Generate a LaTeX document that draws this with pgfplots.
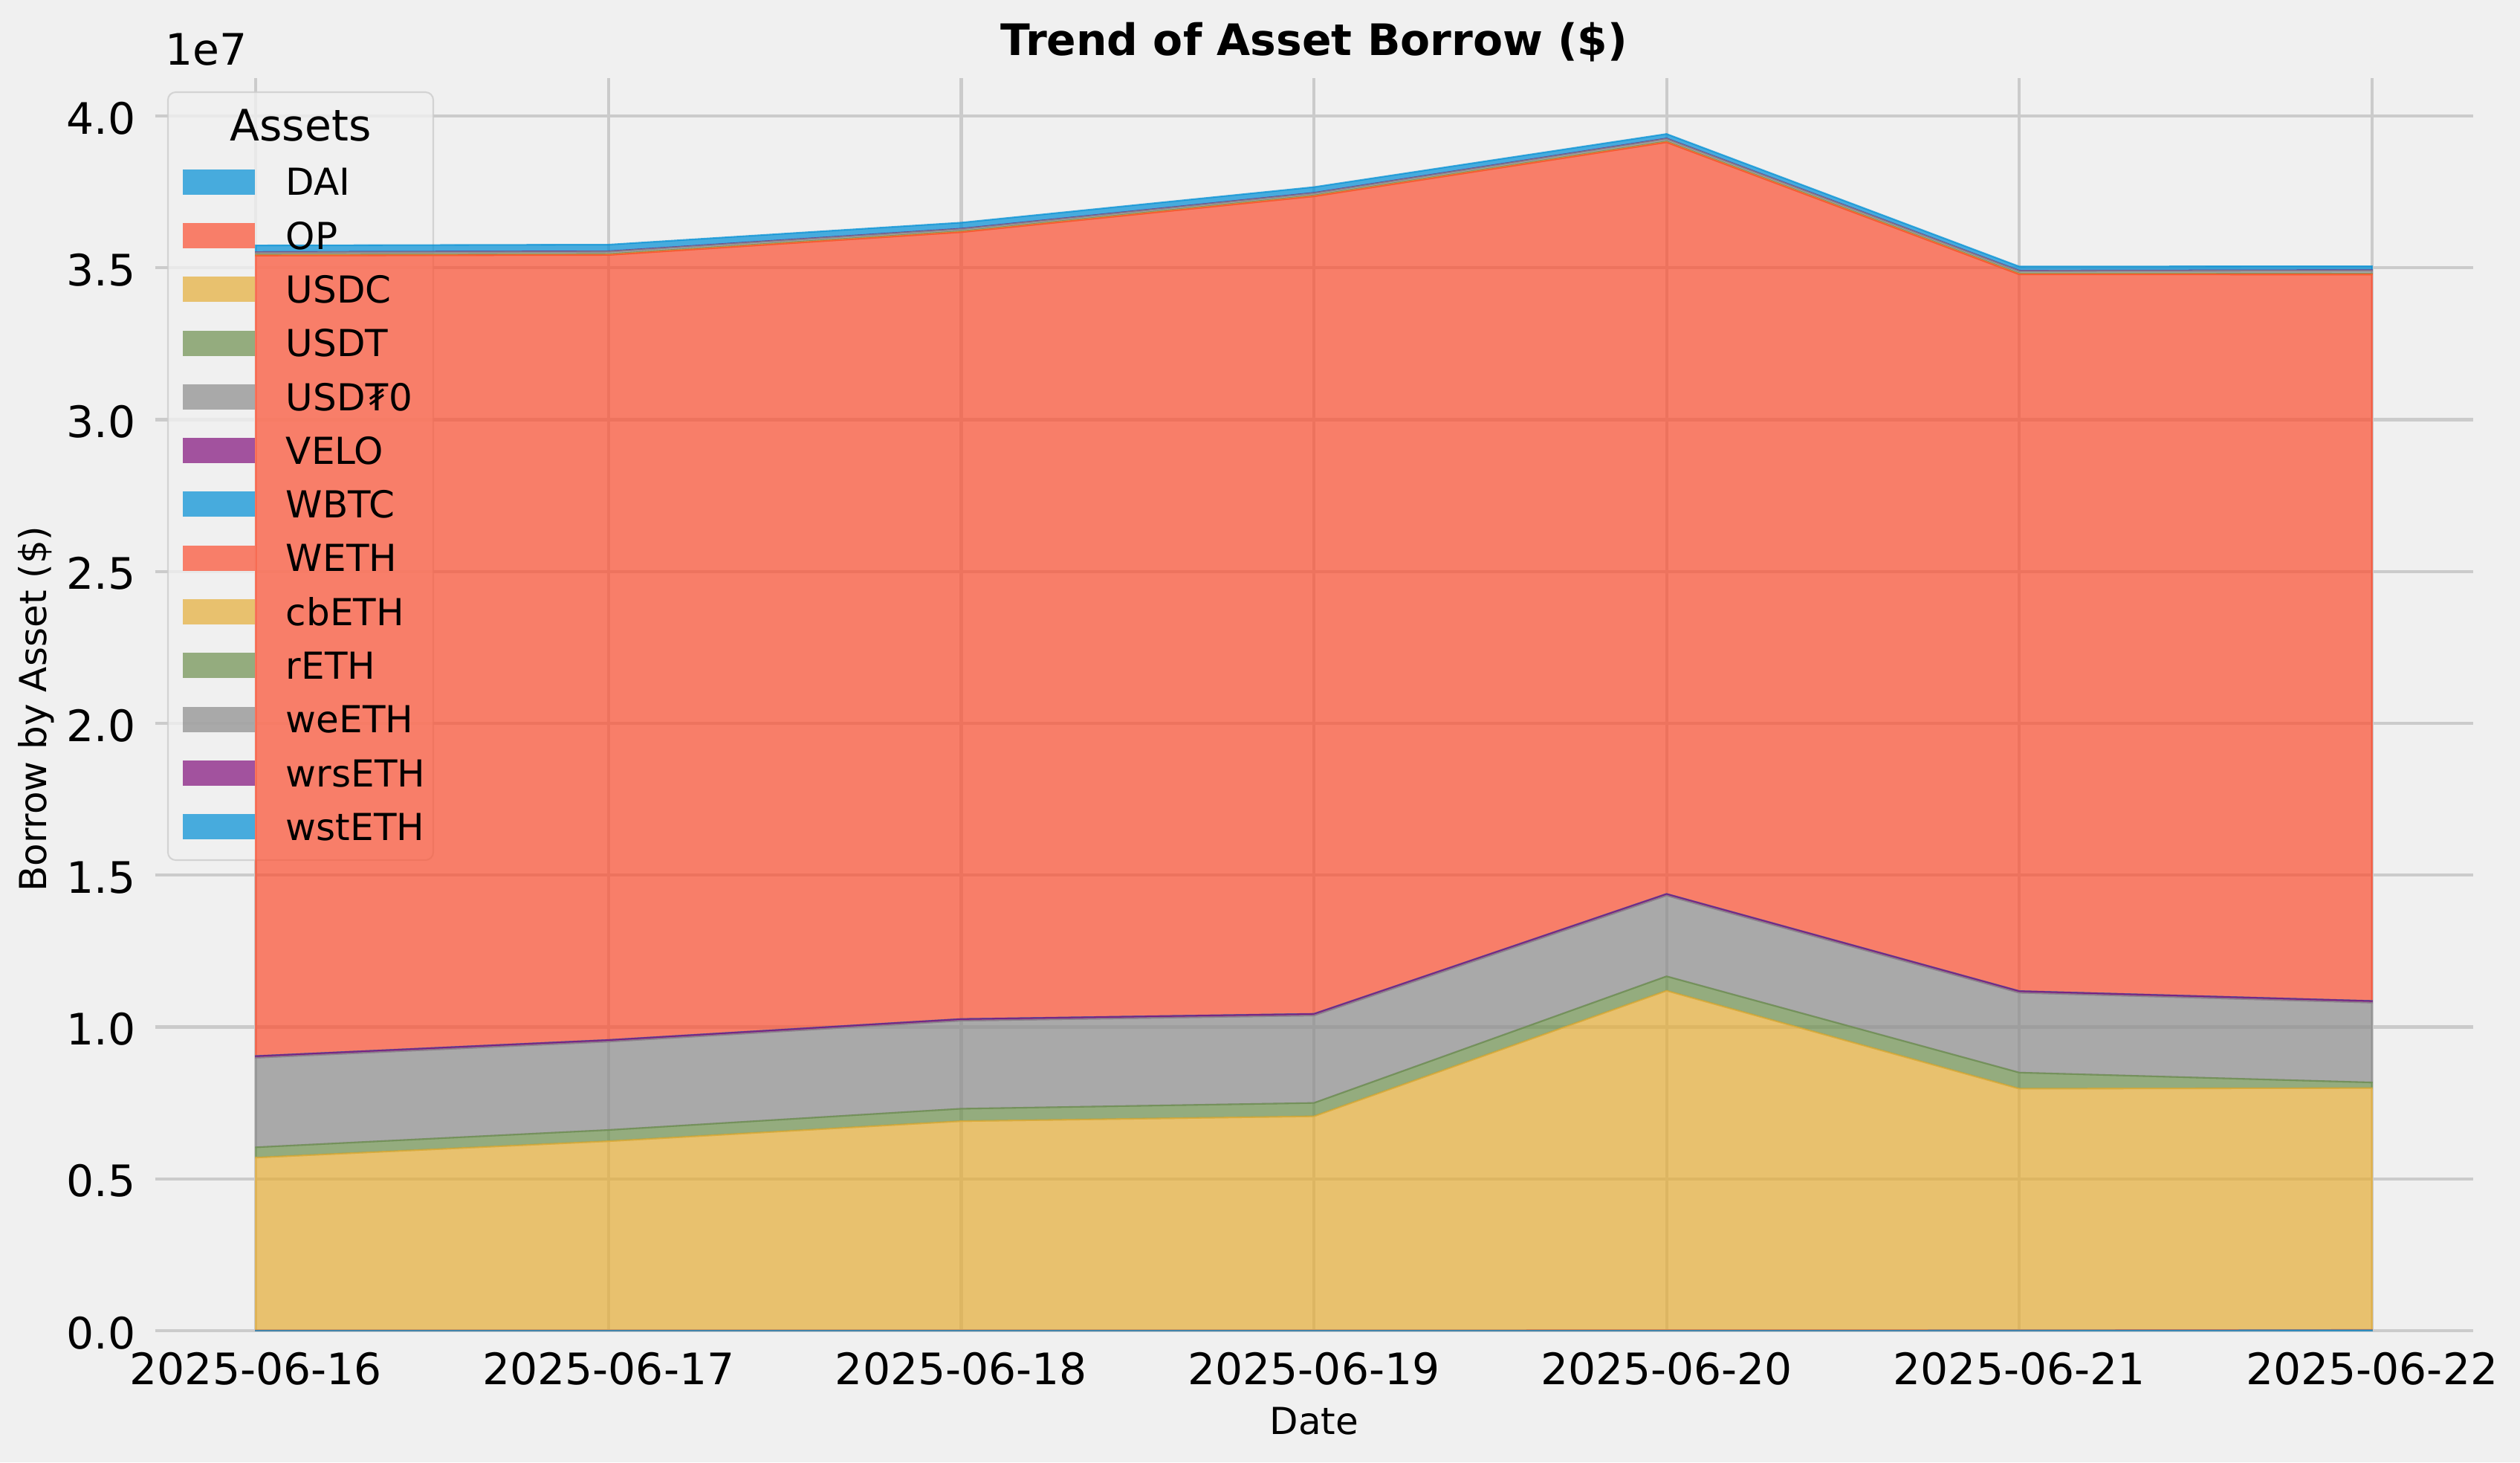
\documentclass[border=0pt]{standalone}
\usepackage{pgfplots}
\pgfplotsset{compat=1.18}
\usepackage{pgfplotstable}
\usepackage{fontspec}
\setmainfont{DejaVu Sans}
\definecolor{c1}{HTML}{008FD5}
\definecolor{c2}{HTML}{FC4F30}
\definecolor{c3}{HTML}{E5AE38}
\definecolor{c4}{HTML}{6D904F}
\definecolor{c5}{HTML}{8B8B8B}
\definecolor{c6}{HTML}{810F7C}
\definecolor{bg}{HTML}{F0F0F0}
\definecolor{gridc}{HTML}{CBCBCB}
\definecolor{legedge}{HTML}{CCCCCC}

\pgfplotstableread{
idx DAI OP USDC USDT USDT0 VELO WBTC WETH cbETH rETH weETH wrsETH wstETH
0 3000 8000 5689000 340000 2950000 50000 5000 26360000 10000 20000 75000 10000 220000
1 3000 8000 6229000 370000 2910000 50000 5000 25850000 10000 20000 80000 10000 220000
2 3000 8000 6889000 410000 2900000 50000 5000 25910000 10000 20000 75000 10000 200000
3 3000 8000 7049000 440000 2880000 50000 5000 26920000 10000 20000 75000 10000 190000
4 4000 8000 11183000 475000 2660000 50000 5000 24750000 10000 20000 85000 10000 150000
5 6000 9000 7955000 530000 2630000 50000 5000 23600000 10000 20000 80000 10000 140000
6 15000 10000 7965000 185000 2630000 50000 5000 23920000 10000 20000 100000 15000 130000
}\datatable

\begin{document}
\begin{tikzpicture}
\fill[bg] (0,0) rectangle (813.84pt,472.08pt);
\path[use as bounding box] (0,0) rectangle (813.84pt,472.08pt);
\begin{axis}[
  at={(50.16pt,42.48pt)}, anchor=south west,
  scale only axis, width=748.56pt, height=404.4pt,
  xmin=-0.285, xmax=6.287, ymin=0, ymax=41250000,
  stack plots=y,
  axis background/.style={fill=bg},
  axis line style={draw=none},
  major tick length=0pt,
  xtick={0,1,2,3,4,5,6},
  xticklabels={2025-06-16,2025-06-17,2025-06-18,2025-06-19,2025-06-20,2025-06-21,2025-06-22},
  ytick={0,5000000,10000000,15000000,20000000,25000000,30000000,35000000,40000000},
  yticklabels={0.0,0.5,1.0,1.5,2.0,2.5,3.0,3.5,4.0},
  scaled y ticks=false,
  grid=major, grid style={gridc, line width=1pt},
  xticklabel style={font=\fontsize{14}{16.8}\selectfont, anchor=north, inner sep=0pt, yshift=-6.72pt},
  yticklabel style={font=\fontsize{14}{16.8}\selectfont, anchor=east, inner sep=0pt, xshift=-6.24pt, yshift=-0.7pt},
  legend style={at={(0.011863,0.92795)}, anchor=north west, draw=none, fill=none,
    inner sep=0pt, outer sep=0pt, row sep=8.6pt, column sep=10.08pt,
    font=\fontsize{12}{14.4}\selectfont,
    nodes={inner sep=0pt, text height=8.75pt, text depth=0pt}},
  legend cell align=left,
  legend image code/.code={\fill[#1, draw=none] (0pt,-4.08pt) rectangle (23.28pt,4.08pt);},
  every axis plot/.append style={line width=0.5pt, fill opacity=0.7, draw opacity=0.7},
]
\addplot[fill=c1, draw=c1] table[x=idx,y=DAI]{\datatable} \closedcycle;
\addlegendentry{DAI}
\addplot[fill=c2, draw=c2] table[x=idx,y=OP]{\datatable} \closedcycle;
\addlegendentry{OP}
\addplot[fill=c3, draw=c3] table[x=idx,y=USDC]{\datatable} \closedcycle;
\addlegendentry{USDC}
\addplot[fill=c4, draw=c4] table[x=idx,y=USDT]{\datatable} \closedcycle;
\addlegendentry{USDT}
\addplot[fill=c5, draw=c5] table[x=idx,y=USDT0]{\datatable} \closedcycle;
\addlegendentry{USD₮0}
\addplot[fill=c6, draw=c6] table[x=idx,y=VELO]{\datatable} \closedcycle;
\addlegendentry{VELO}
\addplot[fill=c1, draw=c1] table[x=idx,y=WBTC]{\datatable} \closedcycle;
\addlegendentry{WBTC}
\addplot[fill=c2, draw=c2] table[x=idx,y=WETH]{\datatable} \closedcycle;
\addlegendentry{WETH}
\addplot[fill=c3, draw=c3] table[x=idx,y=cbETH]{\datatable} \closedcycle;
\addlegendentry{cbETH}
\addplot[fill=c4, draw=c4] table[x=idx,y=rETH]{\datatable} \closedcycle;
\addlegendentry{rETH}
\addplot[fill=c5, draw=c5] table[x=idx,y=weETH]{\datatable} \closedcycle;
\addlegendentry{weETH}
\addplot[fill=c6, draw=c6] table[x=idx,y=wrsETH]{\datatable} \closedcycle;
\addlegendentry{wrsETH}
\addplot[fill=c1, draw=c1] table[x=idx,y=wstETH]{\datatable} \closedcycle;
\addlegendentry{wstETH}
\draw[legedge, line width=0.5pt, draw opacity=0.8, fill=bg, fill opacity=0.8, rounded corners=2.5pt]
  (rel axis cs:0.00545,0.37567) rectangle (rel axis cs:0.11991,0.98872);
\end{axis}
\node[anchor=base, font=\fontsize{14}{16.8}\selectfont] at (97.08pt,426.6pt) {Assets};
\node[anchor=base, font=\bfseries\fontsize{14}{16.8}\selectfont] at (424.44pt,454.08pt) {Trend of Asset Borrow (\$)};
\node[anchor=base west, font=\fontsize{14}{16.8}\selectfont] at (49.92pt,450.96pt) {1e7};
\node[anchor=base, font=\fontsize{12}{14.4}\selectfont] at (424.44pt,9.12pt) {Date};
\node[anchor=center, rotate=90, font=\fontsize{12}{14.4}\selectfont] at (11.76pt,243.2pt) {Borrow by Asset (\$)};
\end{tikzpicture}
\end{document}
